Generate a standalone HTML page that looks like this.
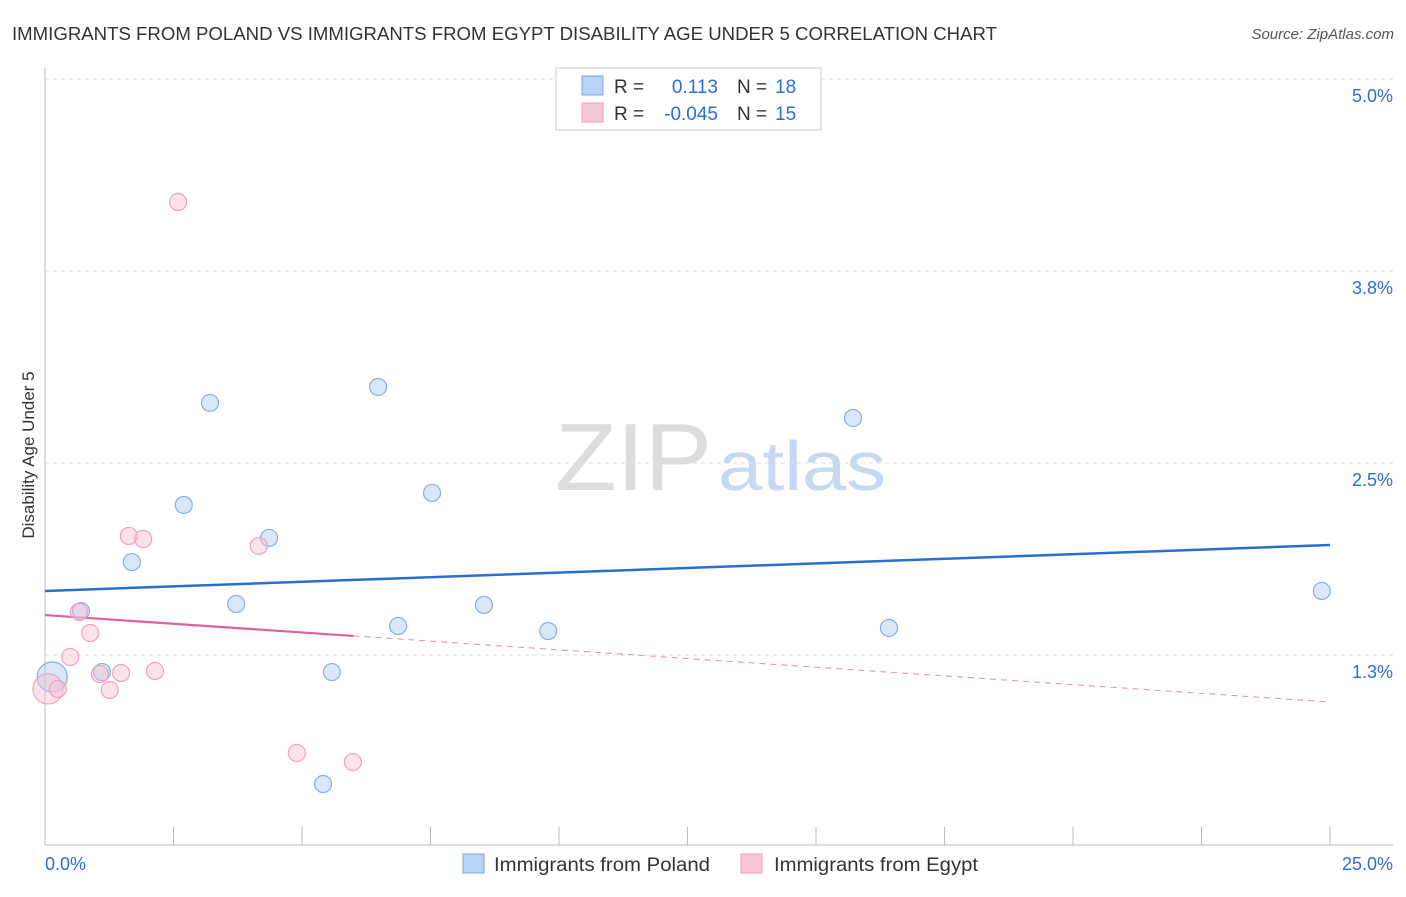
<!DOCTYPE html>
<html><head><meta charset="utf-8">
<style>
body{margin:0;background:#fff;font-family:"Liberation Sans",sans-serif;}
svg text{font-family:"Liberation Sans",sans-serif;}
</style></head>
<body>
<svg id="chart" width="1406" height="892" xmlns="http://www.w3.org/2000/svg">
<text x="12" y="40" font-size="18" fill="#333" textLength="985" lengthAdjust="spacingAndGlyphs">IMMIGRANTS FROM POLAND VS IMMIGRANTS FROM EGYPT DISABILITY AGE UNDER 5 CORRELATION CHART</text>
<text x="1394" y="39" font-size="15" fill="#555" font-style="italic" text-anchor="end">Source: ZipAtlas.com</text>
<text x="34" y="455" font-size="17" fill="#333" text-anchor="middle" transform="rotate(-90 34 455)">Disability Age Under 5</text>
<g>
<text x="555" y="490" font-size="96" fill="#ddd" font-family="Liberation Serif" textLength="157" lengthAdjust="spacingAndGlyphs">ZIP</text>
<text x="718" y="490" font-size="70" fill="#c6d9f3" textLength="168" lengthAdjust="spacingAndGlyphs">atlas</text>
</g>
<g id="grid"></g>
<g id="axes"></g>
<g id="lines"></g>
<g id="points"></g>
<g>
<rect x="556" y="68" width="265" height="62" fill="#fff" stroke="#ccc"/>
<rect x="582" y="76" width="21" height="19" fill="#b9d3f5" stroke="#7aa8e0"/>
<text x="614" y="93" font-size="19" fill="#333">R =</text>
<text x="718" y="93" font-size="19" fill="#2a6fd0" text-anchor="end">0.113</text>
<text x="737" y="93" font-size="19" fill="#333">N =</text>
<text x="775" y="93" font-size="19" fill="#2a6fd0">18</text>
<rect x="582" y="103" width="21" height="19" fill="#f8c7d6" stroke="#e9a0b8"/>
<text x="614" y="120" font-size="19" fill="#333">R =</text>
<text x="718" y="120" font-size="19" fill="#2a6fd0" text-anchor="end">-0.045</text>
<text x="737" y="120" font-size="19" fill="#333">N =</text>
<text x="775" y="120" font-size="19" fill="#2a6fd0">15</text>
</g>
<g>
<rect x="463" y="854" width="21" height="19" fill="#b9d3f5" stroke="#7aa8e0"/>
<text x="494" y="871" font-size="19" fill="#333" textLength="216" lengthAdjust="spacingAndGlyphs">Immigrants from Poland</text>
<rect x="741" y="854" width="21" height="19" fill="#f8c7d6" stroke="#e9a0b8"/>
<text x="774" y="871" font-size="19" fill="#333" textLength="204" lengthAdjust="spacingAndGlyphs">Immigrants from Egypt</text>
</g>
</svg>
<script>
const polandX=[0.14,0.70,1.11,1.69,2.70,3.21,3.72,4.36,5.41,5.58,6.48,6.87,7.53,8.54,9.79,15.72,16.42,24.84];
const polandY=[1.107,1.536,1.139,1.855,2.227,2.891,1.582,2.012,0.410,1.139,2.995,1.439,2.305,1.576,1.406,2.793,1.426,1.667];
const polandR=[15,8.5,8.5,8.5,8.5,8.5,8.5,8.5,8.5,8.5,8.5,8.5,8.5,8.5,8.5,8.5,8.5,8.5];
const egyptX=[0.06,0.25,0.49,0.66,0.88,1.07,1.26,1.48,1.63,1.91,2.14,2.59,4.16,4.90,5.99];
const egyptY=[1.029,1.029,1.237,1.530,1.393,1.126,1.022,1.133,2.025,2.005,1.146,4.199,1.960,0.612,0.553];
const egyptR=[15,8.5,8.5,8.5,8.5,8.5,8.5,8.5,8.5,8.5,8.5,8.5,8.5,8.5,8.5];
const polandTrend=[1.667,1.966];
const egyptTrend=[1.510,0.944];
const egyptSolidEnd=6.0;
const yTicks=[1.25,2.5,3.75,5.0];
const yTickLabels=["1.3%","2.5%","3.8%","5.0%"];
const xTickLabels=["0.0%","25.0%"];
const xMin=0,xMax=25;
const NS="http://www.w3.org/2000/svg";
const sx=v=>45+(v-xMin)/(xMax-xMin)*1285;
const sy=v=>655-(v-1.25)*153.6;
function mk(tag,attrs,parent){const e=document.createElementNS(NS,tag);for(const k in attrs)e.setAttribute(k,attrs[k]);document.getElementById(parent).appendChild(e);return e;}
yTicks.forEach((t,i)=>{
 const l=mk('line',{x1:45,x2:1393,y1:sy(t),y2:sy(t),stroke:'#ddd','stroke-dasharray':'4,4'},'grid');
 
 
 const tx=mk('text',{x:1393,y:sy(t)+23,'font-size':18,fill:'#2a6fd0','text-anchor':'end'},'grid');
 tx.textContent=yTickLabels[i];
 
 
});
const ax=mk('line',{x1:45,x2:1393,y1:845,y2:845,stroke:'#bbb'},'axes');


const ay=mk('line',{x1:45,x2:45,y1:68,y2:845,stroke:'#bbb'},'axes');


for(let i=0;i<=10;i++){
 const v=xMin+i*(xMax-xMin)/10;
 const t=mk('line',{x1:sx(v),x2:sx(v),y1:827,y2:845,stroke:'#bbb'},'axes');
 
 
}
const xl0=mk('text',{x:45,y:870,'font-size':18,fill:'#2a6fd0'},'axes');xl0.textContent=xTickLabels[0];


const xl1=mk('text',{x:1393,y:870,'font-size':18,fill:'#2a6fd0','text-anchor':'end'},'axes');xl1.textContent=xTickLabels[1];


polandX.forEach((x,i)=>{
 const c=mk('circle',{cx:sx(x),cy:sy(polandY[i]),r:polandR[i],fill:'rgba(170,202,242,0.45)',stroke:'#86b0e6','stroke-width':1.2},'points');
 
 
});
egyptX.forEach((x,i)=>{
 const c=mk('circle',{cx:sx(x),cy:sy(egyptY[i]),r:egyptR[i],fill:'rgba(248,190,210,0.45)',stroke:'#eea2bc','stroke-width':1.2},'points');
 
 
});
const pl=mk('line',{x1:sx(xMin),y1:sy(polandTrend[0]),x2:sx(xMax),y2:sy(polandTrend[1]),stroke:'#2a6fd0','stroke-width':2.5},'lines');


const ey=x=>egyptTrend[0]+(egyptTrend[1]-egyptTrend[0])*(x-xMin)/(xMax-xMin);
const es=mk('line',{x1:sx(xMin),y1:sy(ey(xMin)),x2:sx(egyptSolidEnd),y2:sy(ey(egyptSolidEnd)),stroke:'#e0609a','stroke-width':2.2},'lines');


const ed=mk('line',{x1:sx(egyptSolidEnd),y1:sy(ey(egyptSolidEnd)),x2:sx(xMax),y2:sy(ey(xMax)),stroke:'#e889ae','stroke-width':1,'stroke-dasharray':'6,5'},'lines');


</script>
</body></html>
